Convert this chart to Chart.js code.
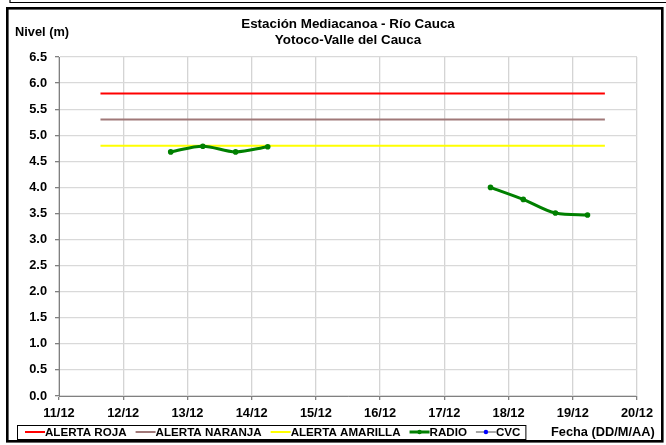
<!DOCTYPE html>
<html>
<head>
<meta charset="utf-8">
<script src="https://cdn.jsdelivr.net/npm/chart.js@4.4.1/dist/chart.umd.min.js"></script>
<style>
    body { margin: 0; background: #fff; }
    #wrap { width: 666px; height: 445px; }
</style>
</head>
<body>
<div id="wrap"><canvas id="myChart" width="666" height="445"></canvas></div>
<script>
// datos
const diasEje = ['11/12', '12/12', '13/12', '14/12', '15/12', '16/12', '17/12', '18/12', '19/12', '20/12'];
const nivelTicks = ['0.0', '0.5', '1.0', '1.5', '2.0', '2.5', '3.0', '3.5', '4.0', '4.5', '5.0', '5.5', '6.0', '6.5'];

const alertaRoja = 5.8;
const alertaNaranja = 5.3;
const alertaAmarilla = 4.8;
const alertaDesde = '11/12 15:30';
const alertaHasta = '19/12 12:00';

const radioFechas = ['12/12 17:45', '13/12 05:45', '13/12 18:00', '14/12 06:00', '16/12 00:00',
                     '17/12 17:15', '18/12 05:30', '18/12 17:30', '19/12 05:30'];
const radioNivel = [4.68, 4.79, 4.68, 4.78, null, 4.00, 3.77, 3.51, 3.47];

const cvcFechas = [];
const cvcNivel = [];

function aDia(f) {
    const p = f.split(' ');
    const d = parseInt(p[0].split('/')[0]);
    const hm = p[1].split(':');
    return d + parseInt(hm[0]) / 24 + parseInt(hm[1]) / 1440;
}

function serie(fechas, niveles) {
    return fechas.map(function (f, i) { return { x: aDia(f), y: niveles[i] }; });
}

function alerta(v) {
    return [{ x: aDia(alertaDesde), y: v }, { x: aDia(alertaHasta), y: v }];
}

const FONT = "'Liberation Sans', Arial, sans-serif";
Chart.defaults.font.family = FONT;
Chart.defaults.font.weight = 'bold';
Chart.defaults.color = '#000';

const marco = {
    id: 'marco',
    beforeDraw: function (chart) {
        const c = chart.ctx;
        c.save();
        c.fillStyle = '#fff';
        c.fillRect(0, 0, chart.width, chart.height);
        c.strokeStyle = '#000';
        c.lineWidth = 1.2;
        c.beginPath();
        c.moveTo(10, 0); c.lineTo(10, 2.5); c.lineTo(666, 2.5);
        c.stroke();
        c.lineWidth = 2.6;
        c.strokeRect(7.3, 8.3, 655, 433);
        c.restore();
    },
    afterDraw: function (chart) {
        const c = chart.ctx;
        const a = chart.chartArea;
        c.save();
        c.fillStyle = '#000';
        c.textAlign = 'center';
        c.textBaseline = 'middle';
        c.font = 'bold 13.4px ' + FONT;
        const cx = (a.left + a.right) / 2;
        c.fillText('Estación Mediacanoa - Río Cauca', cx, 24);
        c.fillText('Yotoco-Valle del Cauca', cx, 40);
        c.font = 'bold 12.8px ' + FONT;
        c.textAlign = 'left';
        c.fillText('Nivel (m)', 15, 32);
        c.fillText('Fecha (DD/M/AA)', 551, 432);

        // leyenda con recuadro
        c.font = 'bold 11.6px ' + FONT;
        let x = 25;
        const y = 432;
        chart.data.datasets.forEach(function (ds) {
            c.strokeStyle = ds.borderColor;
            c.lineWidth = ds.borderWidth;
            c.beginPath();
            c.moveTo(x, y); c.lineTo(x + 20, y);
            c.stroke();
            if (ds.pointRadius > 0 || ds.legendPoint) {
                c.fillStyle = ds.pointBackgroundColor;
                c.beginPath();
                c.arc(x + 10, y, 2.2, 0, Math.PI * 2);
                c.fill();
            }
            c.fillStyle = '#000';
            c.fillText(ds.label, x + 20, y + 0.5);
            x += 20 + c.measureText(ds.label).width + 9;
        });
        c.strokeStyle = '#000';
        c.lineWidth = 1;
        c.strokeRect(17.5, 425.5, x - 17 - 4, 14);
        c.restore();
    }
};

const ctx = document.getElementById('myChart').getContext('2d');
new Chart(ctx, {
    type: 'line',
    data: {
        datasets: [{
            label: 'ALERTA ROJA',
            data: alerta(alertaRoja),
            borderColor: '#ff0000',
            borderWidth: 2,
            pointRadius: 0
        }, {
            label: 'ALERTA NARANJA',
            data: alerta(alertaNaranja),
            borderColor: '#a07878',
            borderWidth: 2,
            pointRadius: 0
        }, {
            label: 'ALERTA AMARILLA',
            data: alerta(alertaAmarilla),
            borderColor: '#ffff00',
            borderWidth: 2,
            pointRadius: 0
        }, {
            label: 'RADIO',
            data: serie(radioFechas, radioNivel),
            order: -1,
            borderColor: '#008000',
            backgroundColor: '#008000',
            pointBackgroundColor: '#008000',
            borderWidth: 3,
            pointRadius: 2.8,
            pointBorderWidth: 0,
            cubicInterpolationMode: 'monotone',
            spanGaps: false
        }, {
            label: 'CVC',
            data: serie(cvcFechas, cvcNivel),
            borderColor: '#a6a6a6',
            pointBackgroundColor: '#0000ff',
            legendPoint: true,
            borderWidth: 2,
            pointRadius: 0
        }]
    },
    options: {
        responsive: false,
        animation: false,
        layout: {
            padding: { top: 57, right: 29, left: 0, bottom: 0 }
        },
        plugins: {
            legend: { display: false },
            title: { display: false },
            tooltip: { enabled: false }
        },
        scales: {
            x: {
                type: 'linear',
                min: 11,
                max: 20,
                afterFit: function (s) { s.height = 49; },
                afterBuildTicks: function (s) {
                    s.ticks = diasEje.map(function (d, i) { return { value: 11 + i }; });
                },
                ticks: {
                    autoSkip: false,
                    maxRotation: 0,
                    padding: 6,
                    font: { size: 12.8, weight: 'bold' },
                    callback: function (v) { return diasEje[Math.round(v) - 11]; }
                },
                grid: { color: '#d4d4d4', tickColor: '#808080', tickLength: 4, lineWidth: 1.3 },
                border: { color: '#808080', width: 1 }
            },
            y: {
                min: 0,
                max: 6.5,
                afterFit: function (s) { s.width = 59; },
                afterBuildTicks: function (s) {
                    s.ticks = nivelTicks.map(function (t) { return { value: parseFloat(t) }; });
                },
                ticks: {
                    padding: 8,
                    font: { size: 12.8, weight: 'bold' },
                    callback: function (v) { return nivelTicks[Math.round(v * 2)]; }
                },
                grid: { color: '#d9d9d9', tickColor: '#808080', tickLength: 4, lineWidth: 1.3 },
                border: { color: '#808080', width: 1 }
            }
        }
    },
    plugins: [marco]
});
</script>
</body>
</html>
